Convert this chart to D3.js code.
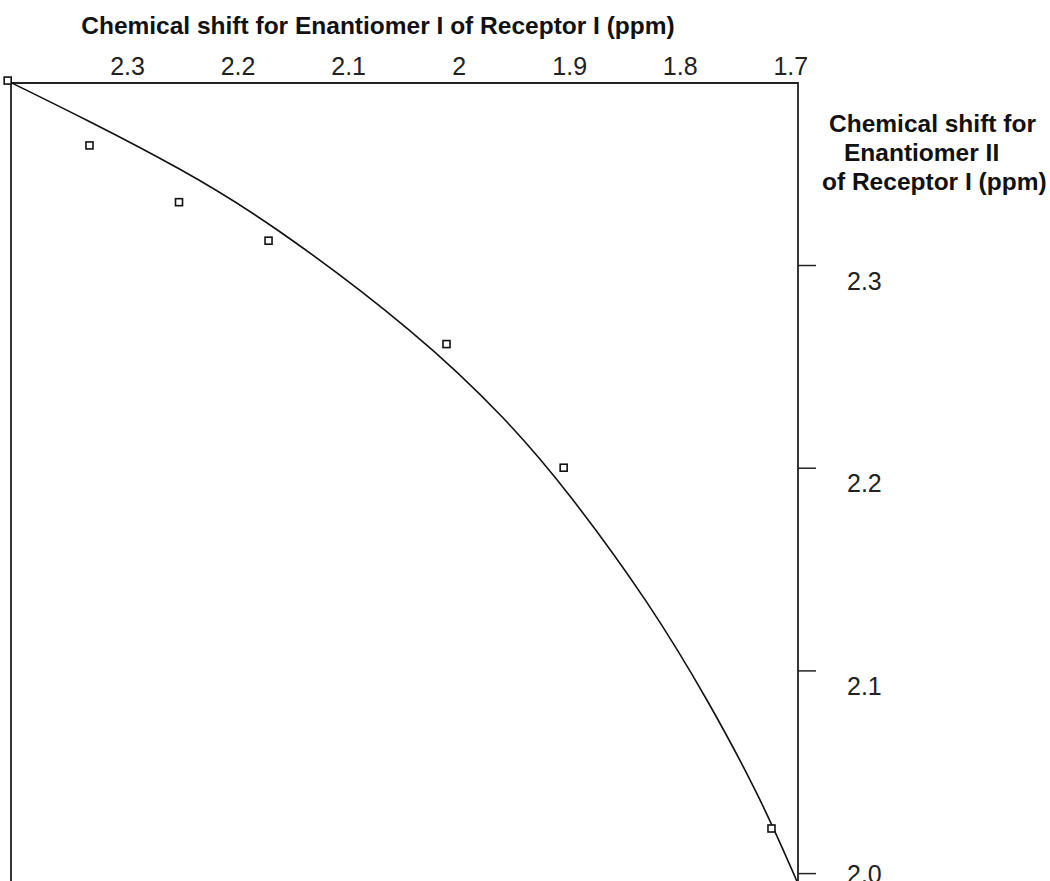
<!DOCTYPE html>
<html>
<head>
<meta charset="utf-8">
<script src="https://cdn.jsdelivr.net/npm/d3@7"></script>
<style>
  body { margin: 0; background: #fff; }
  text { font-family: "Liberation Sans", Arial, sans-serif; }
</style>
</head>
<body>
<div id="container"></div>
<script>
/* DATA */
// measured points (x = Enantiomer I, y = Enantiomer II), ppm
const shiftI  = [2.408, 2.334, 2.253, 2.172, 2.011, 1.905, 1.717];
const shiftII = [2.391, 2.359, 2.331, 2.312, 2.261, 2.200, 2.022];

// fitted curve
const fitI  = [2.405, 2.336, 2.253, 2.1725, 2.035, 1.956, 1.902, 1.827, 1.773, 1.726, 1.694];
const fitII = [2.390, 2.3715, 2.348, 2.322, 2.2655, 2.2235, 2.189, 2.133, 2.084, 2.036, 1.996];

const xTicks = [2.3, 2.2, 2.1, 2.0, 1.9, 1.8, 1.7];
const xTickLabels = ["2.3", "2.2", "2.1", "2", "1.9", "1.8", "1.7"];
const yTicks = [2.3, 2.2, 2.1, 2.0];
const yTickLabels = ["2.3", "2.2", "2.1", "2.0"];

/* CONSTANTS */
const width = 1050;
const height = 881;
const plotLeft = 11, plotRight = 798, plotTop = 83, plotBottom = 881;

const svg = d3.select("#container")
  .append("svg")
  .attr("width", width)
  .attr("height", height);

/* SCALES */
const xScale = d3.scaleLinear()
  .domain([2.405, 1.693])
  .range([plotLeft, plotRight]);

const yScale = d3.scaleLinear()
  .domain([2.3898, 1.9961])
  .range([plotTop, plotBottom]);

/* AXES */
const xAxis = d3.axisTop(xScale)
  .tickValues(xTicks)
  .tickFormat((d, i) => xTickLabels[i])
  .tickSize(0)
  .tickPadding(8);

const gx = svg.append("g")
  .attr("transform", `translate(0, ${plotTop})`)
  .call(xAxis);
gx.select(".domain").remove();
gx.selectAll("text")
  .attr("font-size", 25)
  .attr("font-family", "Liberation Sans, Arial, sans-serif")
  .attr("fill", "#222");

const yAxis = d3.axisRight(yScale)
  .tickValues(yTicks)
  .tickFormat((d, i) => yTickLabels[i])
  .tickSize(18)
  .tickSizeOuter(0);

const gy = svg.append("g")
  .attr("transform", `translate(${plotRight}, 0)`)
  .call(yAxis);
gy.select(".domain").remove();
gy.selectAll(".tick line").attr("stroke", "#222").attr("stroke-width", 1.5);
gy.selectAll("text")
  .attr("x", 49)
  .attr("y", (d, i) => i === yTicks.length - 1 ? 9 : 24)
  .attr("dy", 0)
  .attr("text-anchor", "start")
  .attr("font-size", 25)
  .attr("font-family", "Liberation Sans, Arial, sans-serif")
  .attr("fill", "#222");

// frame (top, left, right)
svg.append("path")
  .attr("d", `M${plotLeft},${plotBottom + 5}V${plotTop}H${plotRight}V${plotBottom + 5}`)
  .attr("fill", "none")
  .attr("stroke", "#222")
  .attr("stroke-width", 1.8);

/* CURVE */
const line = d3.line()
  .x(d => xScale(d[0]))
  .y(d => yScale(d[1]))
  .curve(d3.curveBasis);

svg.append("path")
  .datum(fitI.map((v, i) => [v, fitII[i]]))
  .attr("d", line)
  .attr("fill", "none")
  .attr("stroke", "#111")
  .attr("stroke-width", 1.6);

/* MARKERS */
svg.selectAll(".pt")
  .data(shiftI.map((v, i) => [v, shiftII[i]]))
  .join("rect")
  .attr("class", "pt")
  .attr("x", d => xScale(d[0]) - 3.5)
  .attr("y", d => yScale(d[1]) - 3.5)
  .attr("width", 7)
  .attr("height", 7)
  .attr("fill", "#fff")
  .attr("stroke", "#111")
  .attr("stroke-width", 1.6);

/* TITLES */
svg.append("text")
  .attr("x", 378)
  .attr("y", 34)
  .attr("text-anchor", "middle")
  .attr("font-size", 24.5)
  .attr("font-weight", "bold")
  .attr("fill", "#111")
  .text("Chemical shift for Enantiomer I of Receptor I (ppm)");

const yTitle = [
  { t: "Chemical shift for", x: 829, y: 132 },
  { t: "Enantiomer II", x: 844, y: 161 },
  { t: "of Receptor I (ppm)", x: 822, y: 190 }
];
svg.selectAll(".ytitle")
  .data(yTitle)
  .join("text")
  .attr("class", "ytitle")
  .attr("x", d => d.x)
  .attr("y", d => d.y)
  .attr("font-size", 24.5)
  .attr("font-weight", "bold")
  .attr("fill", "#111")
  .text(d => d.t);
</script>
</body>
</html>
